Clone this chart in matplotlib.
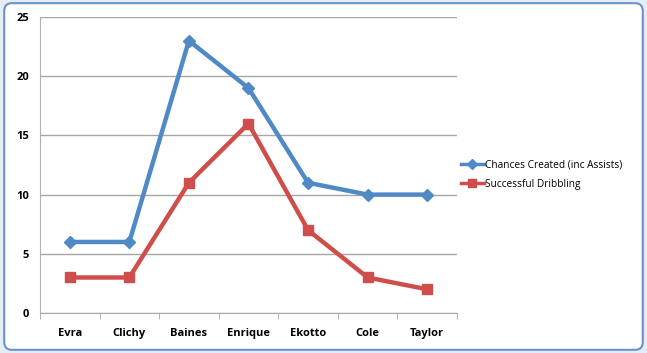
import matplotlib
matplotlib.use('Agg')
import matplotlib.pyplot as plt
from matplotlib.patches import FancyBboxPatch
import numpy as np

players = ['Evra', 'Clichy', 'Baines', 'Enrique', 'Ekotto', 'Cole', 'Taylor']
chances = [6, 6, 23, 19, 11, 10, 10]
dribbles = [3, 3, 11, 16, 7, 3, 2]

fig = plt.figure(figsize=(6.47, 3.53), dpi=100)
fig.patch.set_facecolor('#e6edf6')
frame = FancyBboxPatch((0.0065, 0.009), 0.987, 0.982, boxstyle='round,pad=0,rounding_size=0.012',
                       transform=fig.transFigure, facecolor='white', edgecolor='#6b93c9',
                       linewidth=1.5, mutation_aspect=647 / 353, zorder=-10)
fig.patches.append(frame)

ax = fig.add_axes([0.0618, 0.1133, 0.6445, 0.8385])
ax.patch.set_alpha(0)
x = np.arange(len(players))
ax.plot(x, chances, color='#4f8ac6', lw=3.2, marker='D', ms=6, label='Chances Created (inc Assists)')
ax.plot(x, dribbles, color='#cf4e4b', lw=3.2, marker='s', ms=7, label='Successful Dribbling')

ax.set_xlim(-0.5, len(players) - 0.5)
ax.set_ylim(0, 25)
ax.set_yticks([0, 5, 10, 15, 20, 25])
ax.yaxis.grid(True, color='#a6a6a6', lw=1)
ax.set_axisbelow(True)
for s in ['top', 'right']:
    ax.spines[s].set_visible(False)
ax.spines['left'].set_color('#b0b0b0')
ax.spines['bottom'].set_color('#a6a6a6')
ax.tick_params(axis='y', length=0, pad=8)
ax.set_xticks(x)
ax.set_xticklabels(players)
ax.set_xticks(np.arange(len(players) + 1) - 0.5, minor=True)
ax.tick_params(axis='x', which='major', length=0, pad=11)
ax.tick_params(axis='x', which='minor', length=4, color='#a6a6a6')
for lab in ax.get_xticklabels() + ax.get_yticklabels():
    lab.set_fontweight('bold')
    lab.set_fontsize(8)
    lab.set_fontfamily('Open Sans')

leg = fig.legend(loc='center left', bbox_to_anchor=(0.698, 0.505), frameon=False,
                 prop={'family': 'Open Sans', 'size': 7.3}, handlelength=2.3,
                 handletextpad=0.1, labelspacing=0.85, markerscale=0.8)
for h in leg.legend_handles:
    h.set_linewidth(2.5)

fig.savefig('out.png', dpi=100)
